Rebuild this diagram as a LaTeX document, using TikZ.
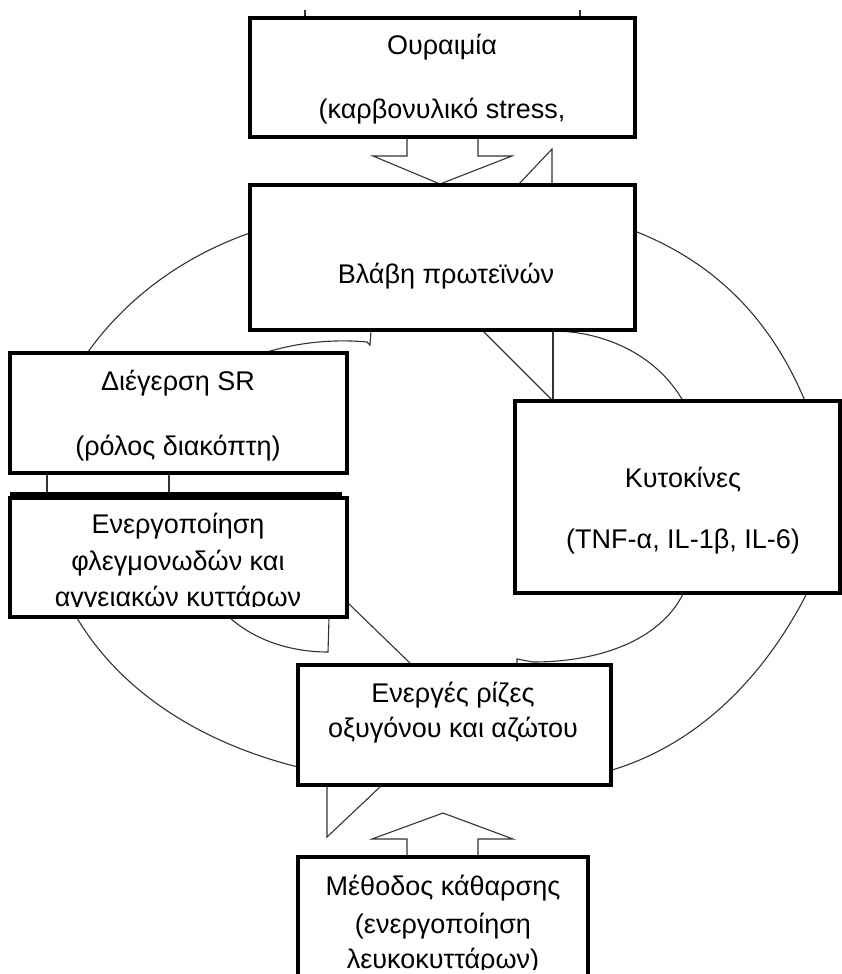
\documentclass[tikz,border=0pt]{standalone}
\usepackage{fontspec}
\setmainfont{Liberation Sans}
\begin{document}
\begin{tikzpicture}[x=1pt,y=-1pt,
  box/.style={draw=black, fill=white, line width=3.3pt, rectangle, inner sep=0pt, outer sep=0pt},
  lbl/.style={anchor=base, inner sep=0pt, font=\fontsize{27}{30}\selectfont},
  thin/.style={draw=black!80, line width=1.1pt, line join=miter}]
\clip (0,0) rectangle (842,974);
% outer arcs of the cycle
\draw[thin] (88,352) .. controls (125,300) and (181,257) .. (250,233);
\draw[thin] (637,232) .. controls (727,268) and (776,332) .. (805,401);
\draw[thin] (807,593) .. controls (769,668) and (705,742) .. (612,770);
\draw[thin] (298,767) .. controls (198,742) and (120,690) .. (77,618);
% inner arcs and arrow pieces
\draw[thin] (267,352) .. controls (300,342) and (335,339) .. (367,342) -- (370,345) -- (371,331);
\draw[thin] (553,331) .. controls (600,331) and (655,352) .. (683,401);
\draw[thin] (553,331) -- (553,401);
\draw[thin] (483,331) -- (553,401);
\draw[thin] (683,594) .. controls (660,640) and (600,662) .. (533,662) -- (517,659) -- (517,665);
\draw[thin] (230,618) .. controls (255,640) and (290,652) .. (328,652) -- (329,618);
\draw[thin] (348,603) -- (412,665);
\draw[thin] (381,786) -- (327,837) -- (327,786);
% block arrows
\draw[thin] (407,857) -- (407,839) -- (372,839) -- (443,813) -- (513,839) -- (478,839) -- (478,857);
\draw[thin] (407,137) -- (407,156) -- (373,156) -- (440,184) -- (512,156) -- (478,156) -- (478,137);
\draw[thin] (518,185) -- (552,149) -- (552,185);
% top ticks
\draw[thin] (305,10) -- (305,18);
\draw[thin] (580,10) -- (580,18);
% links between SR box and activation box
\draw[thin] (47,473) -- (47,492);
\draw[thin] (169,473) -- (169,492);
\draw[line width=6pt] (10,494.5) -- (342,494.5);
% boxes
\node[box, minimum width=385pt, minimum height=119pt] (b1) at (442.5,77.5) {};
\node[box, minimum width=385pt, minimum height=145pt] (b2) at (442.5,257.5) {};
\node[box, minimum width=337pt, minimum height=120pt] (b3) at (178.5,413) {};
\node[box, minimum width=337pt, minimum height=119pt] (b4) at (178.5,557.5) {};
\node[box, minimum width=325pt, minimum height=192pt] (b6) at (677.5,497) {};
\node[box, minimum width=313pt, minimum height=120pt] (b5) at (454.5,725) {};
\node[box, minimum width=290pt, minimum height=150pt] (b7) at (443,932) {};
% texts
\node[lbl] (t1a) at (442,55) {Ουραιμία};
\node[lbl] (t1b) at (442,118) {(καρβονυλικό stress,};
\node[lbl] (t2) at (446,283) {Βλάβη πρωτεϊνών};
\node[lbl] (t3a) at (178,390) {Διέγερση SR};
\node[lbl] (t3b) at (178,455) {(ρόλος διακόπτη)};
\node[lbl] (t4a) at (178,533) {Ενεργοποίηση};
\node[lbl] (t4b) at (178,570) {φλεγμονωδών και};
\begin{scope}
\clip (10,498) rectangle (347,606);
\node[lbl] (t4c) at (178,606) {αγγειακών κυττάρων};
\end{scope}
\node[lbl] (t6a) at (683,487) {Κυτοκίνες};
\node[lbl] (t6b) at (683,548) {(TNF-α, IL-1β, IL-6)};
\node[lbl] (t5a) at (453,702) {Ενεργές ρίζες};
\node[lbl] (t5b) at (453,737) {οξυγόνου και αζώτου};
\node[lbl] (t7a) at (443,895) {Μέθοδος κάθαρσης};
\node[lbl] (t7b) at (443,933) {(ενεργοποίηση};
\begin{scope}
\clip (298,857) rectangle (588,969);
\node[lbl] (t7c) at (443,968) {λευκοκυττάρων)};
\end{scope}
\end{tikzpicture}
\end{document}
